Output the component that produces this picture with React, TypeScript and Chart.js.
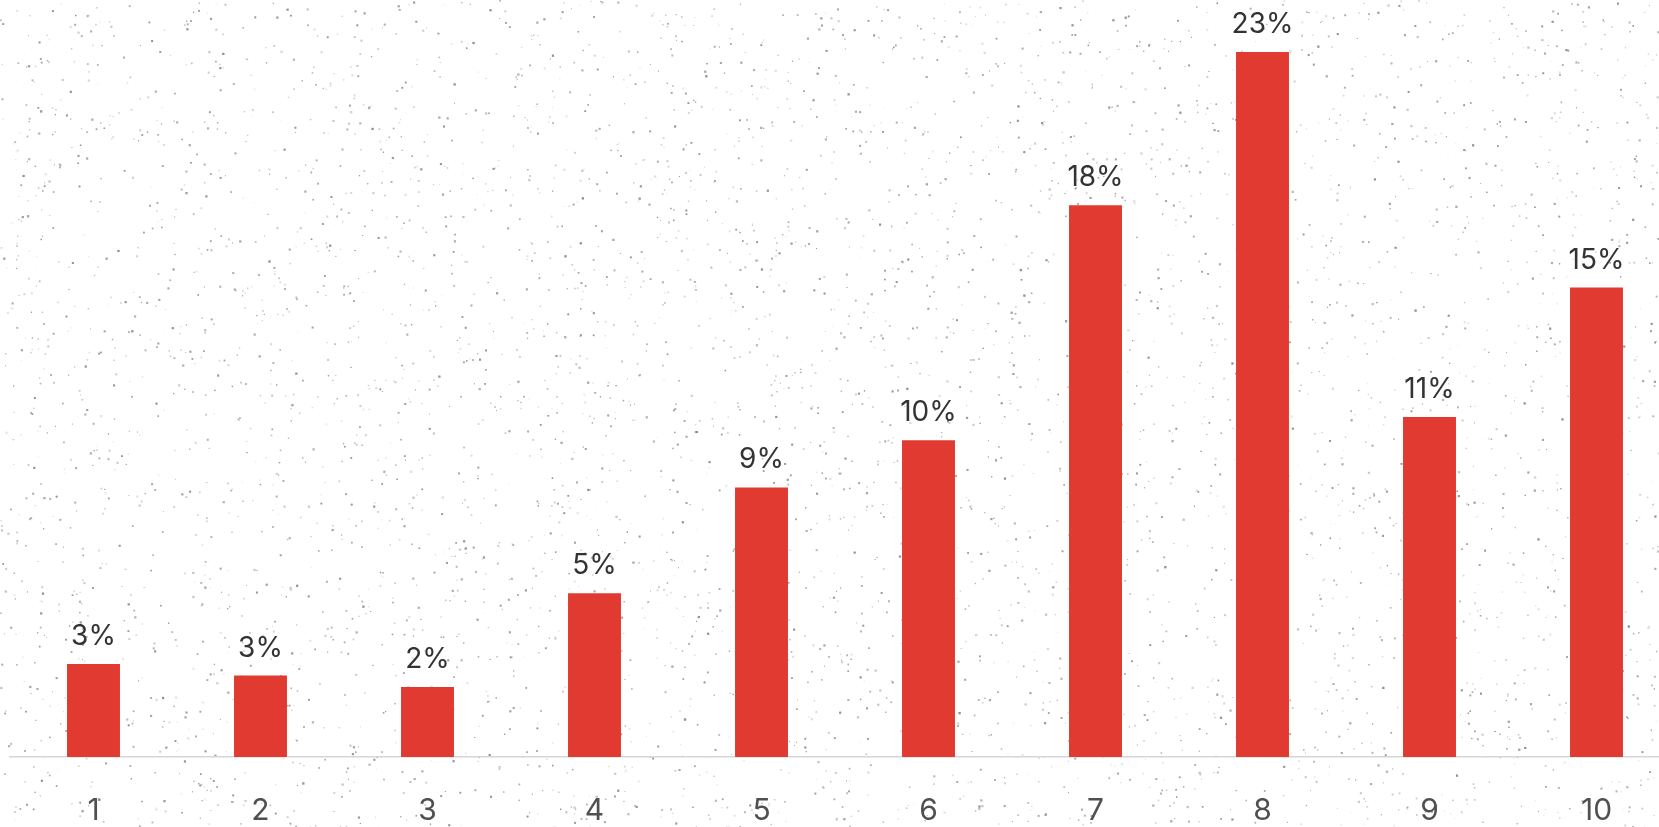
import React, { useEffect, useRef } from 'react';
import { Chart, registerables } from 'chart.js';

Chart.register(...registerables);

const categories = ['1', '2', '3', '4', '5', '6', '7', '8', '9', '10'];
const shares = [3.04, 2.66, 2.29, 5.35, 8.81, 10.35, 18.03, 23.04, 11.11, 15.34];
const shareLabels = ['3%', '3%', '2%', '5%', '9%', '10%', '18%', '23%', '11%', '15%'];

const BAR_COLOR = '#E03A31';

// subtle paper-speckle background texture (decorative, not data)
const speckle = {
  id: 'speckle',
  beforeDraw(chart: any) {
    const ctx = chart.ctx as CanvasRenderingContext2D;
    ctx.save();
    ctx.fillStyle = '#ffffff';
    ctx.fillRect(0, 0, chart.width, chart.height);
    let s = 1234567;
    const rnd = () => {
      s = (s * 1103515245 + 12345) & 0x7fffffff;
      return s / 0x7fffffff;
    };
    for (let i = 0; i < 20000; i++) {
      const x = rnd() * chart.width;
      const y = rnd() * chart.height;
      const a = 0.06 + rnd() * 0.28;
      const r = 0.8 + rnd() * 1.4;
      ctx.fillStyle = `rgba(120,120,120,${a.toFixed(3)})`;
      ctx.fillRect(x, y, r, r);
    }
    ctx.restore();
  },
};

const valueLabels = {
  id: 'valueLabels',
  afterDatasetsDraw(chart: any) {
    const ctx = chart.ctx as CanvasRenderingContext2D;
    const meta = chart.getDatasetMeta(0);
    ctx.save();
    ctx.font = '28px Inter, "Noto Sans", sans-serif';
    ctx.fillStyle = '#333333';
    ctx.textAlign = 'center';
    ctx.textBaseline = 'alphabetic';
    meta.data.forEach((bar: any, i: number) => {
      ctx.fillText(shareLabels[i], bar.x, bar.y - 19);
    });
    ctx.restore();
  },
};

export default function App() {
  const ref = useRef<HTMLCanvasElement | null>(null);

  useEffect(() => {
    const canvas = ref.current;
    if (!canvas) return;
    const chart = new Chart(canvas, {
      type: 'bar',
      data: {
        labels: categories,
        datasets: [
          {
            data: shares,
            backgroundColor: BAR_COLOR,
            borderWidth: 0,
            categoryPercentage: 1,
            barPercentage: 0.317,
          },
        ],
      },
      options: {
        responsive: false,
        animation: false,
        devicePixelRatio: 1,
        layout: { padding: { left: 10, right: 10, top: 0, bottom: 0 } },
        plugins: {
          legend: { display: false },
          tooltip: { enabled: false },
        },
        scales: {
          x: {
            grid: { display: false, drawTicks: false },
            border: { display: true, color: '#d6d6d6', width: 1.5 },
            ticks: {
              color: '#505050',
              font: { family: 'Inter, "Noto Sans", sans-serif', size: 30 },
              padding: 36,
              autoSkip: false,
              maxRotation: 0,
            },
          },
          y: {
            display: false,
            min: 0,
            max: 24.74,
          },
        },
      },
      plugins: [speckle, valueLabels],
    });
    return () => chart.destroy();
  }, []);

  return (
    <div
      style={{
        position: 'fixed',
        left: 0,
        top: 0,
        width: 1659,
        height: 827,
        overflow: 'hidden',
        background: '#ffffff',
      }}
    >
      <canvas ref={ref} width={1690} height={865} style={{ display: 'block', width: 1690, height: 865 }} />
    </div>
  );
}
